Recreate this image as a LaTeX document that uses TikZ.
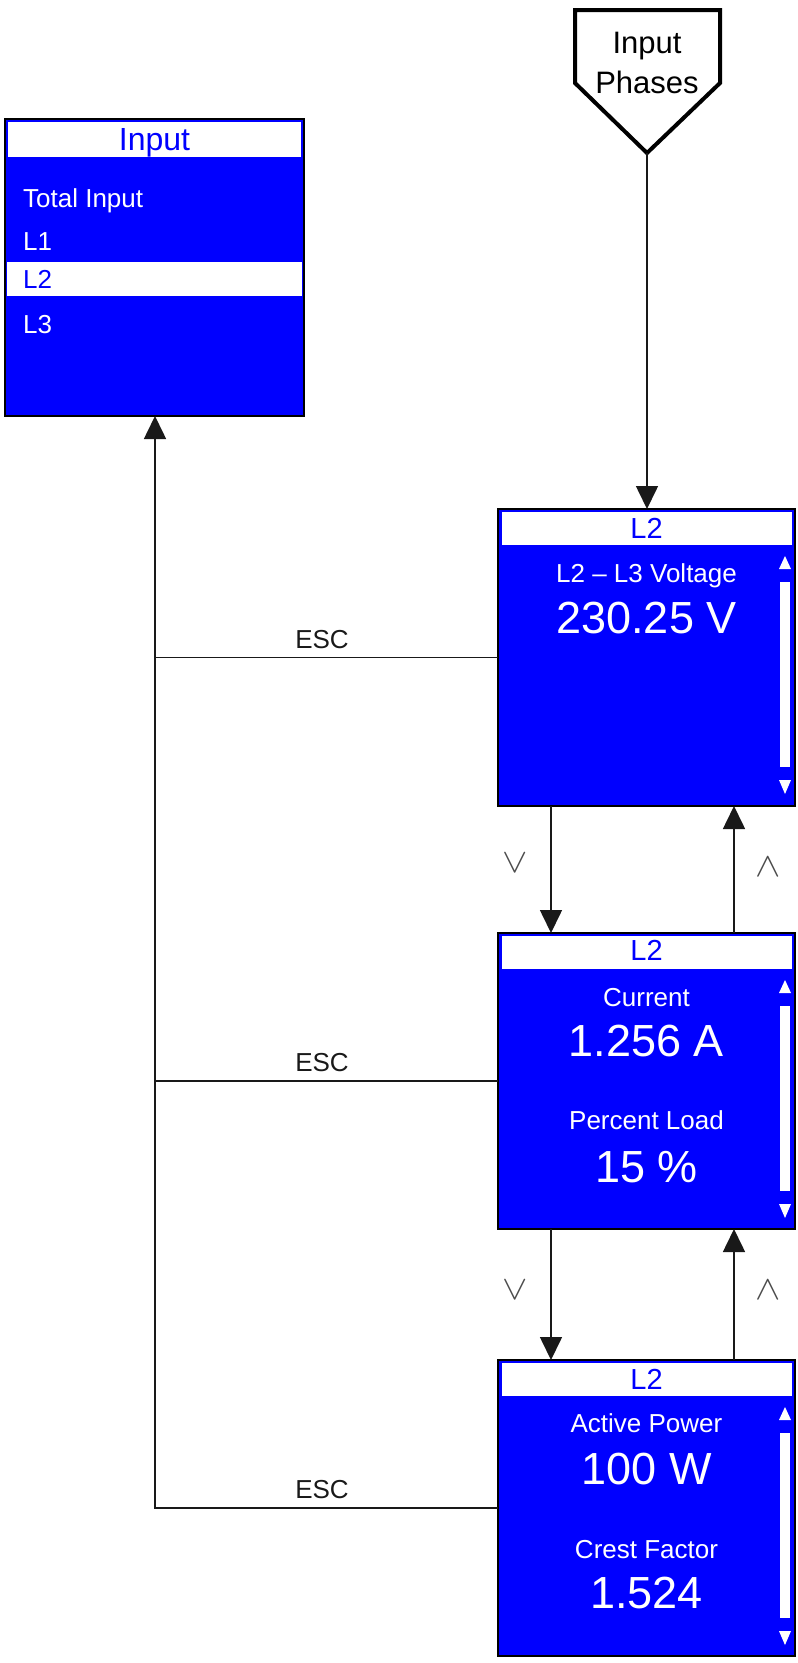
\documentclass[tikz,border=0pt]{standalone}
\usepackage{graphicx}
\usepackage{fontspec}
\setmainfont{Liberation Sans}
\usetikzlibrary{arrows.meta}
\definecolor{scr}{RGB}{0,0,255}
\newcommand\myscroll[1]{%
  \fill[white] (779,{#1+61}) -- (791,{#1+61}) -- (785,{#1+48}) -- cycle;
  \fill[white] (780,{#1+74}) rectangle (790,{#1+259});
  \fill[white] (779,{#1+272}) -- (791,{#1+272}) -- (785,{#1+286}) -- cycle;}
\begin{document}
\begin{tikzpicture}[x=1pt,y=-1pt,
  screen/.style={draw=black,line width=2pt,fill=scr,inner sep=0pt,outer sep=0pt},
  headbar/.style={draw=scr,line width=1pt,fill=white,inner sep=0pt,outer sep=0pt},
  htxt/.style={text=scr,anchor=base,inner sep=0pt,font=\fontsize{29}{34}\selectfont},
  lbl/.style={text=white,anchor=base,inner sep=0pt,font=\fontsize{26}{30}\selectfont},
  val/.style={text=white,anchor=base,inner sep=0pt,font=\fontsize{45}{52}\selectfont},
  item/.style={text=white,anchor=base west,inner sep=0pt,font=\fontsize{26}{30}\selectfont},
  esclbl/.style={text=black!90,anchor=base,inner sep=0pt,font=\fontsize{26}{30}\selectfont},
  chev/.style={text=black!70,inner sep=0pt,font=\fontsize{10}{12}\selectfont},
  conn/.style={draw=black!90,line width=1.6pt},
  arr/.style={conn,-{Triangle[length=23pt,width=22pt]}},
]
\useasboundingbox (0,0) rectangle (798,1663);

% Input menu
\node[screen,minimum width=299pt,minimum height=297pt] (in) at (154.5,267.5) {};
\node[headbar,minimum width=294pt,minimum height=36pt,anchor=north] (inh) at ([yshift=-2.5pt]in.north) {};
\node[htxt,font=\fontsize{32}{36}\selectfont] (inht) at (154.5,150) {Input};
\node[fill=white,inner sep=0pt,minimum width=295pt,minimum height=34pt] (hl) at (154.5,279) {};
\node[item] (i0) at (23,207) {Total Input};
\node[item] (i1) at (23,250) {L1};
\node[item,text=scr] (i2) at (23,288) {L2};
\node[item] (i3) at (23,333) {L3};

% Input Phases
\draw[line width=4pt,line join=miter,fill=white] (575,10) -- (720,10) -- (720,83) -- (647,153) -- (575,83) -- cycle;
\coordinate (phtip) at (647,153);
\node[anchor=base,inner sep=0pt,font=\fontsize{31}{36}\selectfont] (ph1) at (647,53) {Input};
\node[anchor=base,inner sep=0pt,font=\fontsize{31}{36}\selectfont] (ph2) at (647,93) {Phases};

% Screen 1
\node[screen,minimum width=297pt,minimum height=297pt] (b1) at (646.5,657.5) {};
\node[headbar,minimum width=291pt,minimum height=34pt,anchor=north] (b1h) at ([yshift=-2.5pt]b1.north) {};
\node[htxt] (b1t) at (646.5,538) {L2};
\node[lbl] (b1l) at (646.5,582) {L2 – L3 Voltage};
\node[val] (b1v) at (646.5,633) {230.25 V};
\myscroll{508}

% Screen 2
\node[screen,minimum width=297pt,minimum height=296pt] (b2) at (646.5,1081) {};
\node[headbar,minimum width=291pt,minimum height=34pt,anchor=north] (b2h) at ([yshift=-2.5pt]b2.north) {};
\node[htxt] (b2t) at (646.5,960) {L2};
\node[lbl] (b2l) at (646.5,1006) {Current};
\node[val] (b2v) at (646.5,1056) {1.256 A};
\node[lbl] (b2l2) at (646.5,1129) {Percent Load};
\node[val] (b2v2) at (646.5,1182) {15 \%};
\myscroll{932}

% Screen 3
\node[screen,minimum width=297pt,minimum height=296pt] (b3) at (646.5,1508) {};
\node[headbar,minimum width=291pt,minimum height=34pt,anchor=north] (b3h) at ([yshift=-2.5pt]b3.north) {};
\node[htxt] (b3t) at (646.5,1389) {L2};
\node[lbl] (b3l) at (646.5,1432) {Active Power};
\node[val] (b3v) at (646.5,1484) {100 W};
\node[lbl] (b3l2) at (646.5,1558) {Crest Factor};
\node[val] (b3v2) at (646.5,1608) {1.524};
\myscroll{1359}

% connectors
\coordinate (dn) at (551,0);
\coordinate (up) at (734,0);
\coordinate (esc) at (155,0);
\draw[arr] (phtip) -- (b1.north -| phtip);
\draw[arr] (b1.south -| dn) -- (b2.north -| dn);
\draw[arr] (b2.north -| up) -- (b1.south -| up);
\draw[arr] (b2.south -| dn) -- (b3.north -| dn);
\draw[arr] (b3.north -| up) -- (b2.south -| up);
\draw[conn] (b1.west) -- (b1.west -| esc);
\draw[conn] (b2.west) -- (b2.west -| esc);
\draw[arr] (b3.west) -- (b3.west -| esc) -- (in.south -| esc);

\node[esclbl] (e1) at (322,648) {ESC};
\node[esclbl] (e2) at (322,1071) {ESC};
\node[esclbl] (e3) at (322,1498) {ESC};

\node[chev] (v1) at (515,863) {\scalebox{3.8}[3.4]{$\vee$}};
\node[chev] (a1) at (768,867) {\scalebox{3.8}[3.4]{$\wedge$}};
\node[chev] (v2) at (515,1290) {\scalebox{3.8}[3.4]{$\vee$}};
\node[chev] (a2) at (768,1290) {\scalebox{3.8}[3.4]{$\wedge$}};
\end{tikzpicture}
\end{document}
